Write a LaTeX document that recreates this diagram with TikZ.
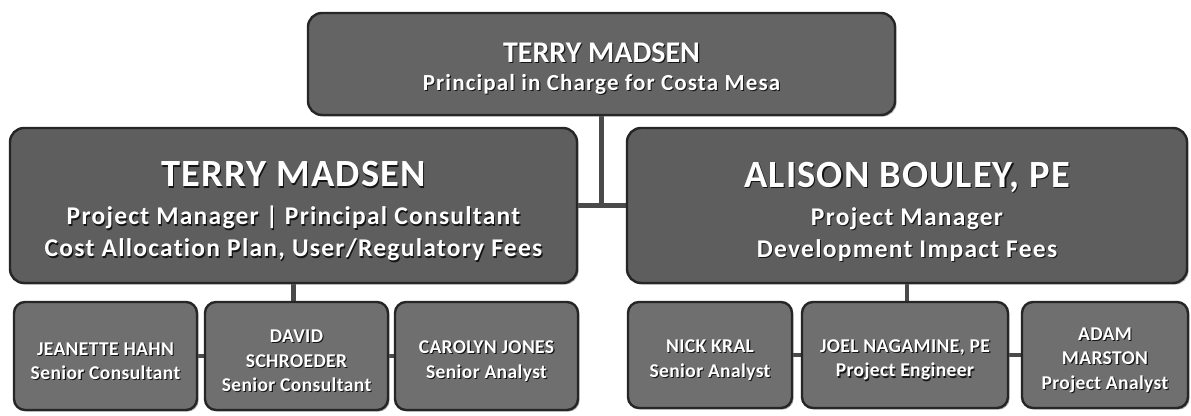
\documentclass[tikz,border=0pt]{standalone}
\usepackage{fontspec}
\setmainfont{Carlito}[Ligatures=NoCommon]
\newfontfamily\wideset{Carlito}[LetterSpace=5, Ligatures=NoCommon]
\newfontfamily\headset{Carlito}[LetterSpace=3, Ligatures=NoCommon]
\newfontfamily\staffset{Carlito}[LetterSpace=2, Ligatures=NoCommon]
\usetikzlibrary{shadows,backgrounds}

\definecolor{boxtop}{HTML}{646464}
\definecolor{boxmid}{HTML}{5E5E5E}
\definecolor{boxsmall}{HTML}{6F6F6F}
\definecolor{boxedge}{HTML}{262626}
\definecolor{wire}{HTML}{4A4A4A}
\definecolor{inkshade}{HTML}{141414}

\tikzset{
  cardline/.style={draw=boxedge, line width=2.4pt, inner sep=0pt,
    drop shadow={shadow xshift=1.6pt, shadow yshift=-1.6pt, opacity=0.6}},
  topcard/.style={cardline, fill=boxtop, rounded corners=14pt},
  midcard/.style={cardline, fill=boxmid, rounded corners=14pt},
  smallcard/.style={cardline, fill=boxsmall, rounded corners=11pt},
  toptext/.style={align=center, inner sep=0pt,
    font=\wideset\bfseries\fontsize{23}{28}\selectfont, yshift=-4.5pt},
  midtext/.style={align=center, inner sep=0pt,
    font=\wideset\bfseries\fontsize{25.5}{32}\selectfont, yshift=-6pt},
  smalltext/.style={align=center, inner sep=0pt,
    font=\staffset\bfseries\fontsize{19.5}{24.5}\selectfont, yshift=-5pt},
  link/.style={draw=wire, line width=4.5pt},
}

% #1 name, #2 centre, #3 width, #4 height, #5 card style, #6 text style, #7 text
\newcommand\orgcard[7]{%
  \node[#5, minimum width=#3pt, minimum height=#4pt] (#1) at #2 {};
  \node[#6, text=inkshade] (#1-shade) at ([shift={(1.1pt,-1.1pt)}]#1.center) {#7};
  \node[#6, text=white] (#1-text) at (#1.center) {#7};
}
\newcommand\toptitle[1]{{\rmfamily\bfseries\fontsize{30}{30}\selectfont #1}}
\newcommand\midtitle[1]{{\headset\bfseries\fontsize{38.5}{38.5}\selectfont #1}}

\begin{document}
\begin{tikzpicture}[x=1pt, y=-1pt]
\useasboundingbox (0,0) rectangle (1191,415);

% top level
\orgcard{top}{(601.5,64)}{587}{102}{topcard}{toptext}
  {\toptitle{TERRY MADSEN}\\Principal in Charge for Costa Mesa}

% project managers
\orgcard{lm}{(293.5,205.5)}{567}{155}{midcard}{midtext}
  {\midtitle{TERRY MADSEN}\\[6pt]Project Manager | Principal Consultant\\Cost Allocation Plan, User/Regulatory Fees}
\orgcard{rm}{(907,205.5)}{560}{155}{midcard}{midtext}
  {\midtitle{ALISON BOULEY, PE}\\[6pt]Project Manager\\Development Impact Fees}

% staff, left team
\orgcard{j}{(105.5,356)}{183}{108}{smallcard}{smalltext}{JEANETTE HAHN\\Senior Consultant}
\orgcard{d}{(296.5,356)}{183}{108}{smallcard}{smalltext}{DAVID\\SCHROEDER\\Senior Consultant}
\orgcard{c}{(486.5,356)}{183}{108}{smallcard}{smalltext}{CAROLYN JONES\\Senior Analyst}

% staff, right team
\orgcard{n}{(710,355)}{164}{106}{smallcard}{smalltext}{NICK KRAL\\Senior Analyst}
\orgcard{jo}{(905,355)}{206}{106}{smallcard}{smalltext}{JOEL NAGAMINE, PE\\Project Engineer}
\orgcard{a}{(1105,355)}{166}{106}{smallcard}{smalltext}{ADAM\\MARSTON\\Project Analyst}

% connectors behind the cards
\begin{scope}[on background layer]
  \fill[white] (0,0) rectangle (1191,415);
  \draw[link] (lm.east) -- (rm.west);
  \draw[link] (top.south) -- (top.south |- lm.east);
  \draw[link] (lm.south) -- (lm.south |- d.north);
  \draw[link] (rm.south) -- (rm.south |- jo.north);
  \draw[link] (j.east) -- (d.west) (d.east) -- (c.west);
  \draw[link] (n.east) -- (jo.west) (jo.east) -- (a.west);
\end{scope}
\end{tikzpicture}
\end{document}
